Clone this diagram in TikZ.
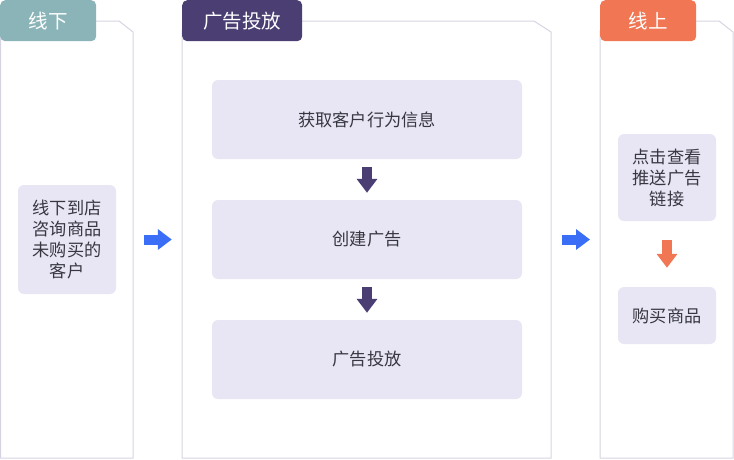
\documentclass[tikz,border=0pt]{standalone}
\usepackage{fontspec}
\setmainfont{Noto Sans CJK SC}
\usepackage{tikz}
\usepackage{xcolor}
\usetikzlibrary{arrows.meta}
\definecolor{offteal}{RGB}{138, 180, 184}
\definecolor{adpurple}{RGB}{74, 62, 115}
\definecolor{onorange}{RGB}{240, 118, 84}
\definecolor{flowblue}{RGB}{59, 110, 247}
\definecolor{boxfill}{RGB}{232, 230, 244}
\definecolor{panelgray}{RGB}{214, 212, 226}
\definecolor{textgray}{RGB}{55, 55, 65}
\tikzset{
    panelline/.style={draw=panelgray, line width=1pt},
    tabnode/.style={rectangle, rounded corners=5pt, anchor=north west, minimum height=41pt, text=white, font=\fontsize{19.5}{22}\selectfont, inner sep=0pt},
    offtab/.style={tabnode, fill=offteal, minimum width=96pt},
    adtab/.style={tabnode, fill=adpurple, minimum width=120pt},
    ontab/.style={tabnode, fill=onorange, minimum width=96pt},
    stepbox/.style={rectangle, rounded corners=6pt, fill=boxfill, text=textgray, align=center, inner sep=0pt, font=\fontsize{17.2}{21}\selectfont},
    blockarrow/.style={line width=10pt, -{Triangle[width=20pt, length=14pt]}}
}
\begin{document}
\begin{tikzpicture}[x=1pt, y=-1pt]
    \useasboundingbox (0,0) rectangle (734,459);
    % panels
    \draw[panelline] (0.5,30) -- (0.5,458) -- (133,458) -- (133,32) -- (119,21) -- (60,21);
    \draw[panelline] (182,30) -- (182,458) -- (551,458) -- (551,32) -- (534,21) -- (250,21);
    \draw[panelline] (600,30) -- (600,458) -- (733,458) -- (733,32) -- (719,21) -- (650,21);
    \node[offtab] (offline) at (0,0) {线下};
    \node[adtab] (ads) at (182,0) {广告投放};
    \node[ontab] (online) at (600,0) {线上};
    % steps
    \node[stepbox, minimum width=98pt, minimum height=109pt] (visit) at (67,239.5) {线下到店\\咨询商品\\未购买的\\客户};
    \node[stepbox, minimum width=310pt, minimum height=79pt] (collect) at (367,119.5) {获取客户行为信息};
    \node[stepbox, minimum width=310pt, minimum height=79pt] (create) at (367,239.5) {创建广告};
    \node[stepbox, minimum width=310pt, minimum height=79pt] (launch) at (367,359.5) {广告投放};
    \node[stepbox, minimum width=98pt, minimum height=87pt] (click) at (667,177.5) {点击查看\\推送广告\\链接};
    \node[stepbox, minimum width=98pt, minimum height=57pt] (buy) at (667,315.5) {购买商品};
    \coordinate (onin) at (590,239.5);
    % arrows
    \draw[blockarrow, flowblue] ([xshift=28pt]visit.east) -- ([xshift=-40pt]create.west);
    \draw[blockarrow, flowblue] ([xshift=40pt]create.east) -- (onin);
    \draw[blockarrow, adpurple] ([yshift=-8pt]collect.south) -- ([yshift=7pt]create.north);
    \draw[blockarrow, adpurple] ([yshift=-8pt]create.south) -- ([yshift=7pt]launch.north);
    \draw[blockarrow, onorange] ([yshift=-19pt]click.south) -- ([yshift=19pt]buy.north);
\end{tikzpicture}
\end{document}
